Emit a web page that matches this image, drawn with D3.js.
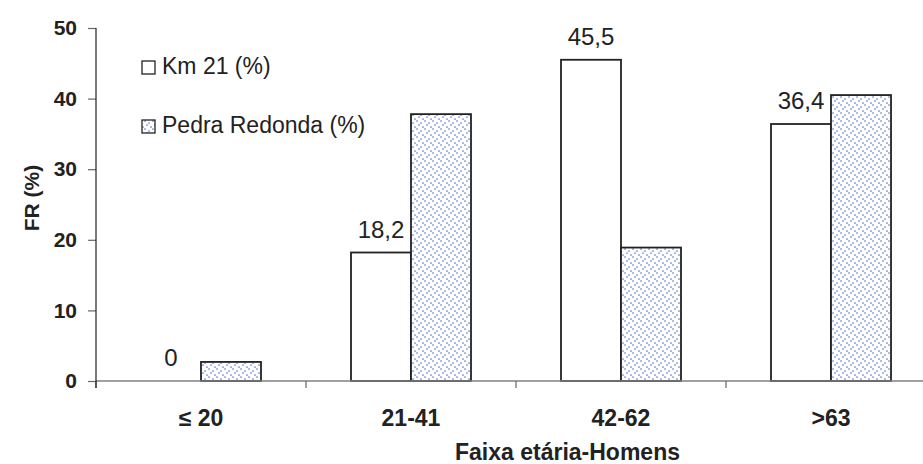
<!DOCTYPE html>
<html><head><meta charset="utf-8">
<script src="https://cdn.jsdelivr.net/npm/d3@7"></script>
<style>body{margin:0;background:#fff}svg{display:block;font-family:"Liberation Sans",Arial,sans-serif}</style>
</head><body><svg id="c" width="923" height="464"></svg>
<script>
const categories = ["≤ 20", "21-41", "42-62", ">63"];
const seriesNames = ["Km 21 (%)", "Pedra Redonda (%)"];
const km21 = [0, 18.2, 45.5, 36.4];
const pedra = [2.7, 37.8, 18.9, 40.5];
const km21Labels = ["0", "18,2", "45,5", "36,4"];
const yTicks = [0, 10, 20, 30, 40, 50];

(function(){
const svg = d3.select("#c");
const defs = svg.append("defs");
const pat = defs.append("pattern").attr("id","dots").attr("patternUnits","userSpaceOnUse")
  .attr("width",8).attr("height",8);
pat.append("rect").attr("width",8).attr("height",8).attr("fill","#fff");
[[1,1],[5,3],[3,5],[7,7]].forEach(([px,py])=>pat.append("circle").attr("cx",px).attr("cy",py).attr("r",0.85).attr("fill","#5a7dd0"));

const mLeft = 96, mRight = 936, mTop = 28, mBottom = 381;
const x = d3.scaleBand().domain(categories).range([mLeft, mRight]);
const y = d3.scaleLinear().domain([0,50]).range([mBottom, mTop]);
const bw = 60;

const g = svg.append("g");
categories.forEach((c,i)=>{
  const cx = x(c) + x.bandwidth()/2;
  g.append("rect").attr("x", cx - bw).attr("width", bw)
    .attr("y", y(km21[i])).attr("height", y(0)-y(km21[i]))
    .attr("fill","#fff").attr("stroke","#222").attr("stroke-width",1.8);
  g.append("rect").attr("x", cx).attr("width", bw)
    .attr("y", y(pedra[i])).attr("height", y(0)-y(pedra[i]))
    .attr("fill","url(#dots)").attr("stroke","#222").attr("stroke-width",1.8);
  g.append("text").attr("x", cx - bw/2).attr("y", y(km21[i]) - 15)
    .attr("text-anchor","middle").attr("font-size",24).attr("fill","#222").text(km21Labels[i]);
});

const xa = svg.append("g").attr("transform",`translate(0,${mBottom})`);
xa.append("line").attr("x1",mLeft).attr("x2",923).attr("stroke","#808080").attr("stroke-width",1.5);
[mLeft, ...categories.map(c=>x(c)+x.bandwidth())].forEach(v=>{
  xa.append("line").attr("x1",v).attr("x2",v).attr("y1",0).attr("y2",7).attr("stroke","#666").attr("stroke-width",1.2);
});
categories.forEach(c=>{
  xa.append("text").attr("x", x(c)+x.bandwidth()/2).attr("y", 45).attr("text-anchor","middle")
    .attr("font-size",23).attr("font-weight","bold").attr("fill","#222").text(c);
});

const yAxis = d3.axisLeft(y).tickValues(yTicks).tickSize(8).tickPadding(11).tickFormat(d3.format("d"));
const ya = svg.append("g").attr("transform",`translate(${mLeft},0)`).call(yAxis);
ya.select(".domain").remove();
ya.append("line").attr("x1",0).attr("x2",0).attr("y1",mTop).attr("y2",mBottom+7).attr("stroke","#222").attr("stroke-width",1.2);
ya.selectAll(".tick line").attr("stroke","#666").attr("stroke-width",1.2);
ya.selectAll(".tick text").attr("font-size",21).attr("font-weight","bold").attr("fill","#222")
  .attr("font-family","Liberation Sans, Arial, sans-serif");

svg.append("text").attr("x",455).attr("y",460).attr("text-anchor","start").attr("font-size",23)
  .attr("font-weight","bold").attr("fill","#222").text("Faixa etária-Homens");
svg.append("text").attr("transform","translate(39,198) rotate(-90)").attr("text-anchor","middle")
  .attr("font-size",21).attr("font-weight","bold").attr("fill","#222").text("FR (%)");

const leg = svg.append("g");
seriesNames.forEach((s,i)=>{
  const ly = 61 + i*59;
  leg.append("rect").attr("x",142).attr("y",ly).attr("width",13).attr("height",13)
    .attr("fill", i===0 ? "#fff" : "url(#dots)").attr("stroke","#222").attr("stroke-width",1.3);
  leg.append("text").attr("x",162).attr("y",ly+13).attr("font-size",23).attr("fill","#222").text(s);
});
})();
</script></body></html>
